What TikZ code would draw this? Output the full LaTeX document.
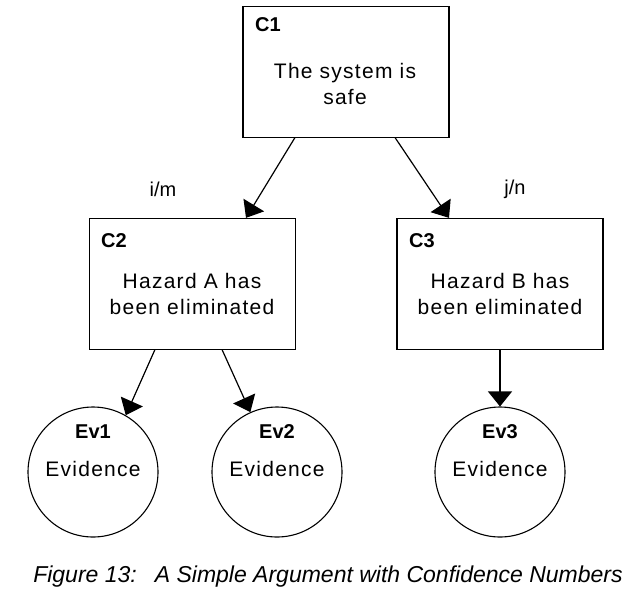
\documentclass[tikz,border=0pt]{standalone}
\usepackage{fontspec}
\setmainfont{Liberation Sans}
\usetikzlibrary{arrows.meta}
\begin{document}
\begin{tikzpicture}[x=1pt,y=-1pt,
  box/.style={draw,line width=1.3pt,minimum width=206pt,minimum height=131pt,inner sep=0pt},
  evc/.style={draw,line width=1.1pt,circle,minimum size=130pt,inner sep=0pt},
  idl/.style={font=\fontsize{20}{22}\selectfont\bfseries,inner sep=0pt},
  txt/.style={font=\fontsize{21}{26}\selectfont\addfontfeature{LetterSpace=6},align=center,inner sep=0pt},
  arr/.style={line width=1.2pt,-{Triangle[width=24pt,length=15pt]}}]
\useasboundingbox (0,0) rectangle (640,603);
% boxes
\node[box] (c1) at (346,72) {};
\node[box] (c2) at (192.5,284) {};
\node[box] (c3) at (500,284) {};
\node[idl,anchor=west] (c1l) at (255,25) {C1};
\node[idl,anchor=west] (c2l) at (101,241) {C2};
\node[idl,anchor=west] (c3l) at (409,241) {C3};
\node[txt] (c1t) at (345,84) {The system is\\safe};
\node[txt] (c2t) at (192,294) {Hazard A has\\been eliminated};
\node[txt] (c3t) at (500,294) {Hazard B has\\been eliminated};
% circles
\node[evc] (ev1) at (93,472) {};
\node[evc] (ev2) at (277,472) {};
\node[evc] (ev3) at (500,472) {};
\node[idl] (ev1l) at (93,432) {Ev1};
\node[idl] (ev2l) at (277,432) {Ev2};
\node[idl] (ev3l) at (500,432) {Ev3};
\node[txt] (ev1t) at (93,469) {Evidence};
\node[txt] (ev2t) at (277,469) {Evidence};
\node[txt] (ev3t) at (500,469) {Evidence};
% labels
\node[font=\fontsize{20}{22}\selectfont,inner sep=0pt] (im) at (163,189) {i/m};
\node[font=\fontsize{20}{22}\selectfont,inner sep=0pt] (jn) at (515,189) {j/n};
% connectors
\coordinate (c1a) at (295,137.5);
\coordinate (c1b) at (395,137.5);
\coordinate (c2a) at (155,349.5);
\coordinate (c2b) at (222,349.5);
\draw[arr] (c1a) -- (c2.north -| 246,0);
\draw[arr] (c1b) -- (c3.north -| 449,0);
\draw[arr] (c2a) -- (ev1.60);
\draw[arr] (c2b) -- (ev2.114);
\draw[arr] (c3.south) -- (ev3.north);
% caption
\node[font=\fontsize{23}{26}\selectfont\itshape,inner sep=0pt] (cap) at (328,577) {Figure 13:\hspace{18pt}A Simple Argument with Confidence Numbers};
\end{tikzpicture}
\end{document}
